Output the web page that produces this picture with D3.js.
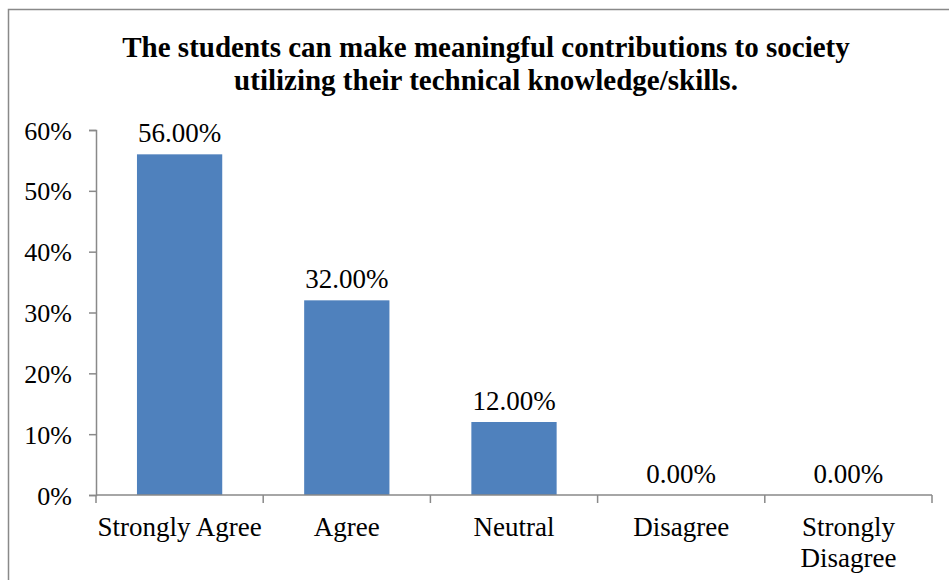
<!DOCTYPE html>
<html>
<head>
<meta charset="utf-8">
<script src="https://cdn.jsdelivr.net/npm/d3@7"></script>
<style>
  body { margin: 0; background: #fff; }
</style>
</head>
<body>
<div id="chart"></div>
<script>
document.addEventListener("DOMContentLoaded", function(event) {

    var categories = ["Strongly Agree", "Agree", "Neutral", "Disagree", "Strongly Disagree"];
    var values = [56.00, 32.00, 12.00, 0.00, 0.00];
    var yTicks = [0, 10, 20, 30, 40, 50, 60];
    var titleLines = ["The students can make meaningful contributions to society",
                      "utilizing their technical knowledge/skills."];

    var FONT = "'Liberation Serif', 'Times New Roman', serif";

    var W = 949, H = 580;
    var margin = { top: 130, right: 17, bottom: 85, left: 96 },
        width = W - margin.left - margin.right,
        height = H - margin.top - margin.bottom;

    var svg = d3.select("#chart").append("svg")
        .attr("width", W)
        .attr("height", H)
        .style("font-family", FONT);

    // outer border (right and bottom run off the picture)
    svg.append("rect")
        .attr("x", 8.5).attr("y", 9.5)
        .attr("width", W + 10).attr("height", H + 10)
        .attr("fill", "none")
        .attr("stroke", "#898989")
        .attr("stroke-width", 1.5);

    svg.selectAll(".title")
        .data(titleLines)
        .enter().append("text")
        .attr("class", "title")
        .attr("x", 486)
        .attr("y", function(d, i) { return 57 + i * 33; })
        .attr("text-anchor", "middle")
        .style("font-family", FONT)
        .style("font-size", "29px")
        .style("font-weight", "bold")
        .text(function(d) { return d; });

    var g = svg.append("g")
        .attr("transform", "translate(" + margin.left + "," + margin.top + ")");

    var x = d3.scaleBand().domain(categories).range([0, width]).paddingInner(0.49).paddingOuter(0.245);
    var y = d3.scaleLinear().domain([0, 60]).range([height, 0]);

    g.selectAll(".bar")
        .data(values)
        .enter().append("rect")
        .attr("class", "bar")
        .attr("x", function(d, i) { return x(categories[i]); })
        .attr("y", function(d) { return y(d); })
        .attr("width", x.bandwidth())
        .attr("height", function(d) { return height - y(d); })
        .attr("fill", "#4f81bd");

    g.selectAll(".val")
        .data(values)
        .enter().append("text")
        .attr("class", "val")
        .attr("x", function(d, i) { return x(categories[i]) + x.bandwidth() / 2; })
        .attr("y", function(d) { return y(d) - 12; })
        .attr("text-anchor", "middle")
        .style("font-family", FONT)
        .style("font-size", "27px")
        .text(function(d) { return d.toFixed(2) + "%"; });

    // Y axis
    var yAxis = g.append("g")
        .call(d3.axisLeft(y).tickValues(yTicks).tickSize(7).tickPadding(17)
            .tickFormat(function(d) { return d + "%"; }));
    yAxis.attr("font-family", null);
    yAxis.selectAll("text")
        .style("font-family", FONT)
        .style("font-size", "26px")
        .attr("fill", "#000")
        .attr("dy", "0.35em");

    // X axis with ticks at category boundaries
    var xAxis = g.append("g").attr("transform", "translate(0," + height + ")");
    xAxis.append("line")
        .attr("x1", 0).attr("x2", width)
        .attr("stroke", "#898989").attr("stroke-width", 1.5);
    var step = x.step();
    xAxis.selectAll(".xt")
        .data(d3.range(categories.length + 1))
        .enter().append("line")
        .attr("class", "xt")
        .attr("x1", function(i) { return i * step; })
        .attr("x2", function(i) { return i * step; })
        .attr("y1", 0).attr("y2", 8)
        .attr("stroke", "#898989").attr("stroke-width", 1.5);

    var lab = xAxis.selectAll(".xl")
        .data(categories)
        .enter().append("text")
        .attr("class", "xl")
        .attr("x", function(d) { return x(d) + x.bandwidth() / 2; })
        .attr("y", 41)
        .attr("text-anchor", "middle")
        .style("font-family", FONT)
        .style("font-size", "27px");
    lab.each(function(d) {
        var t = d3.select(this);
        var parts = d === "Strongly Disagree" ? ["Strongly", "Disagree"] : [d];
        parts.forEach(function(p, k) {
            t.append("tspan")
                .attr("x", x(d) + x.bandwidth() / 2)
                .attr("dy", k === 0 ? 0 : 31)
                .text(p);
        });
    });

    g.selectAll(".domain").attr("stroke", "#898989").attr("stroke-width", 1.5);
    g.selectAll(".tick line").attr("stroke", "#898989").attr("stroke-width", 1.5);
});
</script>
</body>
</html>
